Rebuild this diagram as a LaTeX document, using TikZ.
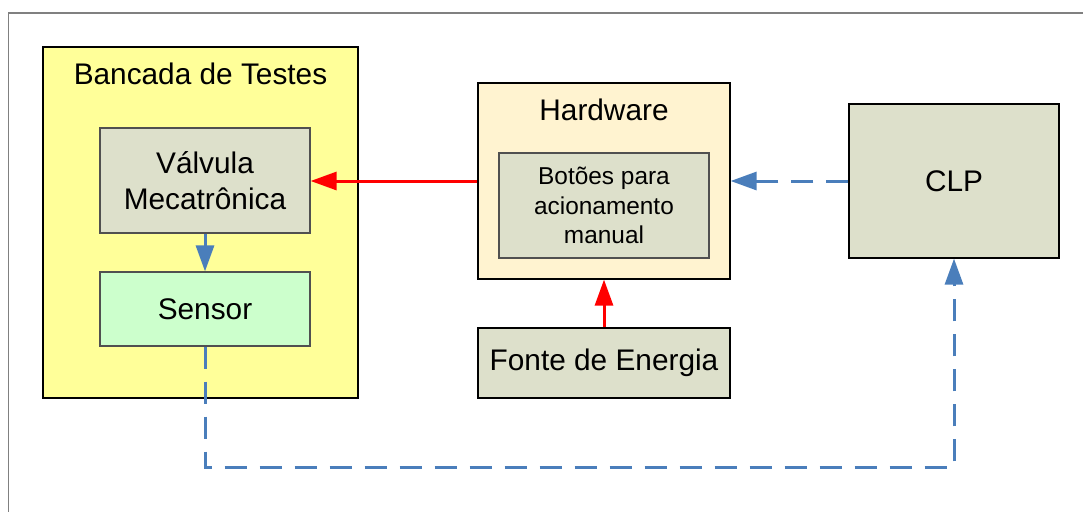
\documentclass[tikz,border=0pt]{standalone}
\usepackage{fontspec}
\setmainfont{Liberation Sans}
\usetikzlibrary{arrows.meta}

\definecolor{benchyellow}{RGB}{255,255,153}
\definecolor{boxgray}{RGB}{221,224,203}
\definecolor{sensorgreen}{RGB}{204,255,204}
\definecolor{hwcream}{RGB}{255,243,208}
\definecolor{linkblue}{RGB}{74,126,187}
\definecolor{framegray}{RGB}{128,128,128}
\definecolor{edgegray}{RGB}{80,80,80}

\tikzset{
  blk/.style={draw=black, line width=1.2pt, inner sep=0pt, align=center,
    font=\fontsize{29.8}{36}\selectfont},
  smallblk/.style={blk, draw=edgegray, font=\fontsize{24.4}{29.5}\selectfont},
  title/.style={anchor=base, inner sep=0pt, font=\fontsize{29.8}{36}\selectfont},
  tip/.style={-{Triangle[length=26pt,width=18pt]}},
  power/.style={tip, draw=red, line width=3pt},
  signal/.style={tip, draw=linkblue, line width=3pt},
  signaldash/.style={signal, dash pattern=on 22pt off 13pt},
}

\begin{document}
\begin{tikzpicture}[x=1pt, y=1pt]
  \useasboundingbox (0,0) rectangle (1083,-511);
  \clip (0,0) rectangle (1083,-511);

  % outer frame (only its top and left sides fall inside the page)
  \draw[framegray, line width=1.6pt] (8.5,-530) -- (8.5,-13) -- (1100,-13);

  % test bench
  \node[blk, fill=benchyellow, minimum width=315pt, minimum height=351pt]
    (bancada) at (200.5,-222.5) {};
  \node[title] (bancadatitle) at (200.5,-84) {Bancada de Testes};
  \node[smallblk, font=\fontsize{29.8}{36}\selectfont, fill=boxgray,
    minimum width=210pt, minimum height=105pt]
    (valvula) at (205,-180.5) {Válvula\\Mecatrônica};
  \node[smallblk, font=\fontsize{29.8}{36}\selectfont, fill=sensorgreen,
    minimum width=210pt, minimum height=74pt]
    (sensor) at (205,-309) {Sensor};

  % hardware
  \node[blk, fill=hwcream, minimum width=252pt, minimum height=196pt]
    (hardware) at (604,-181) {};
  \node[title] (hardwaretitle) at (604,-120) {Hardware};
  \node[smallblk, fill=boxgray, minimum width=210pt, minimum height=105pt]
    (botoes) at (604,-205.5) {Botões para\\acionamento\\manual};

  % power supply and PLC
  \node[blk, fill=boxgray, minimum width=252pt, minimum height=70pt]
    (fonte) at (604,-363) {Fonte de Energia};
  \node[blk, fill=boxgray, minimum width=210pt, minimum height=154pt]
    (clp) at (954,-181) {CLP};

  % connections
  \draw[power] (hardware.west) -- (hardware.west -| valvula.east);
  \draw[power] (fonte.north) -- (hardware.south);
  \draw[signal] (valvula.south) -- (sensor.north);
  \draw[signaldash] (clp.west) -- (hardware.east);
  \coordinate (turn) at (205,-467);
  \draw[signaldash] (sensor.south) -- (turn) -| (clp.south);
\end{tikzpicture}
\end{document}
